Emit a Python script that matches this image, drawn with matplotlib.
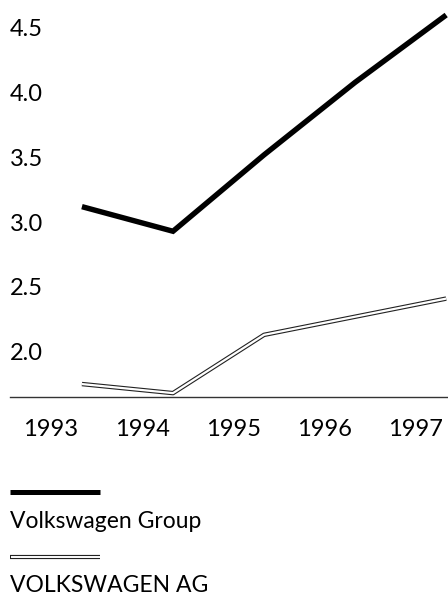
import matplotlib
matplotlib.use("Agg")
import matplotlib.pyplot as plt
import numpy as np

years = [1993, 1994, 1995, 1996, 1997]
group = [3.12, 2.93, 3.52, 4.08, 4.60]
ag = [1.75, 1.68, 2.13, 2.27, 2.41]
yticks = [2.0, 2.5, 3.0, 3.5, 4.0, 4.5]
labels = ["Volkswagen Group", "VOLKSWAGEN AG"]

FONT = "Lato"
FS = 17

fig = plt.figure(figsize=(4.48, 5.95), dpi=100)
W, H = 448, 595
ax = fig.add_axes([10 / W, 1 - 397 / H, 438 / W, 397 / H])

x = np.arange(len(years))
ax.plot(x, group, color="black", lw=3.9, solid_capstyle="butt", solid_joinstyle="miter")
ax.plot(x, ag, color="#222222", lw=3.2, solid_capstyle="butt")
ax.plot(x, ag, color="white", lw=1.6, solid_capstyle="butt")

ax.set_xlim(-0.79, 4.02)
ax.set_ylim(1.65, 4.716)

for s in ["top", "right", "left"]:
    ax.spines[s].set_visible(False)
ax.spines["bottom"].set_linewidth(1.0)
ax.spines["bottom"].set_color("#333333")

ax.set_yticks(yticks)
ax.set_yticklabels([f"{v:.1f}" for v in yticks], fontsize=FS, family=FONT)
ax.tick_params(axis="y", length=0, pad=0)
for lab in ax.get_yticklabels():
    lab.set_horizontalalignment("left")

ax.set_xticks(x - 0.34)
ax.set_xticklabels([str(y) for y in years], fontsize=FS, family=FONT)
ax.tick_params(axis="x", length=0, pad=16)

# legend
lax = fig.add_axes([0, 0, 1, 1])
lax.set_xlim(0, W)
lax.set_ylim(H, 0)
lax.axis("off")
lax.plot([10, 100], [492, 492], color="black", lw=3.6, solid_capstyle="butt")
lax.text(10, 522, labels[0], fontsize=16.5, family=FONT, va="center", ha="left")
lax.plot([10, 100], [557, 557], color="#222222", lw=3.0, solid_capstyle="butt")
lax.plot([10.5, 99.5], [557, 557], color="white", lw=1.4, solid_capstyle="butt")
lax.text(10, 585, labels[1], fontsize=16.5, family=FONT, va="center", ha="left")

fig.savefig("out.png", dpi=100)
